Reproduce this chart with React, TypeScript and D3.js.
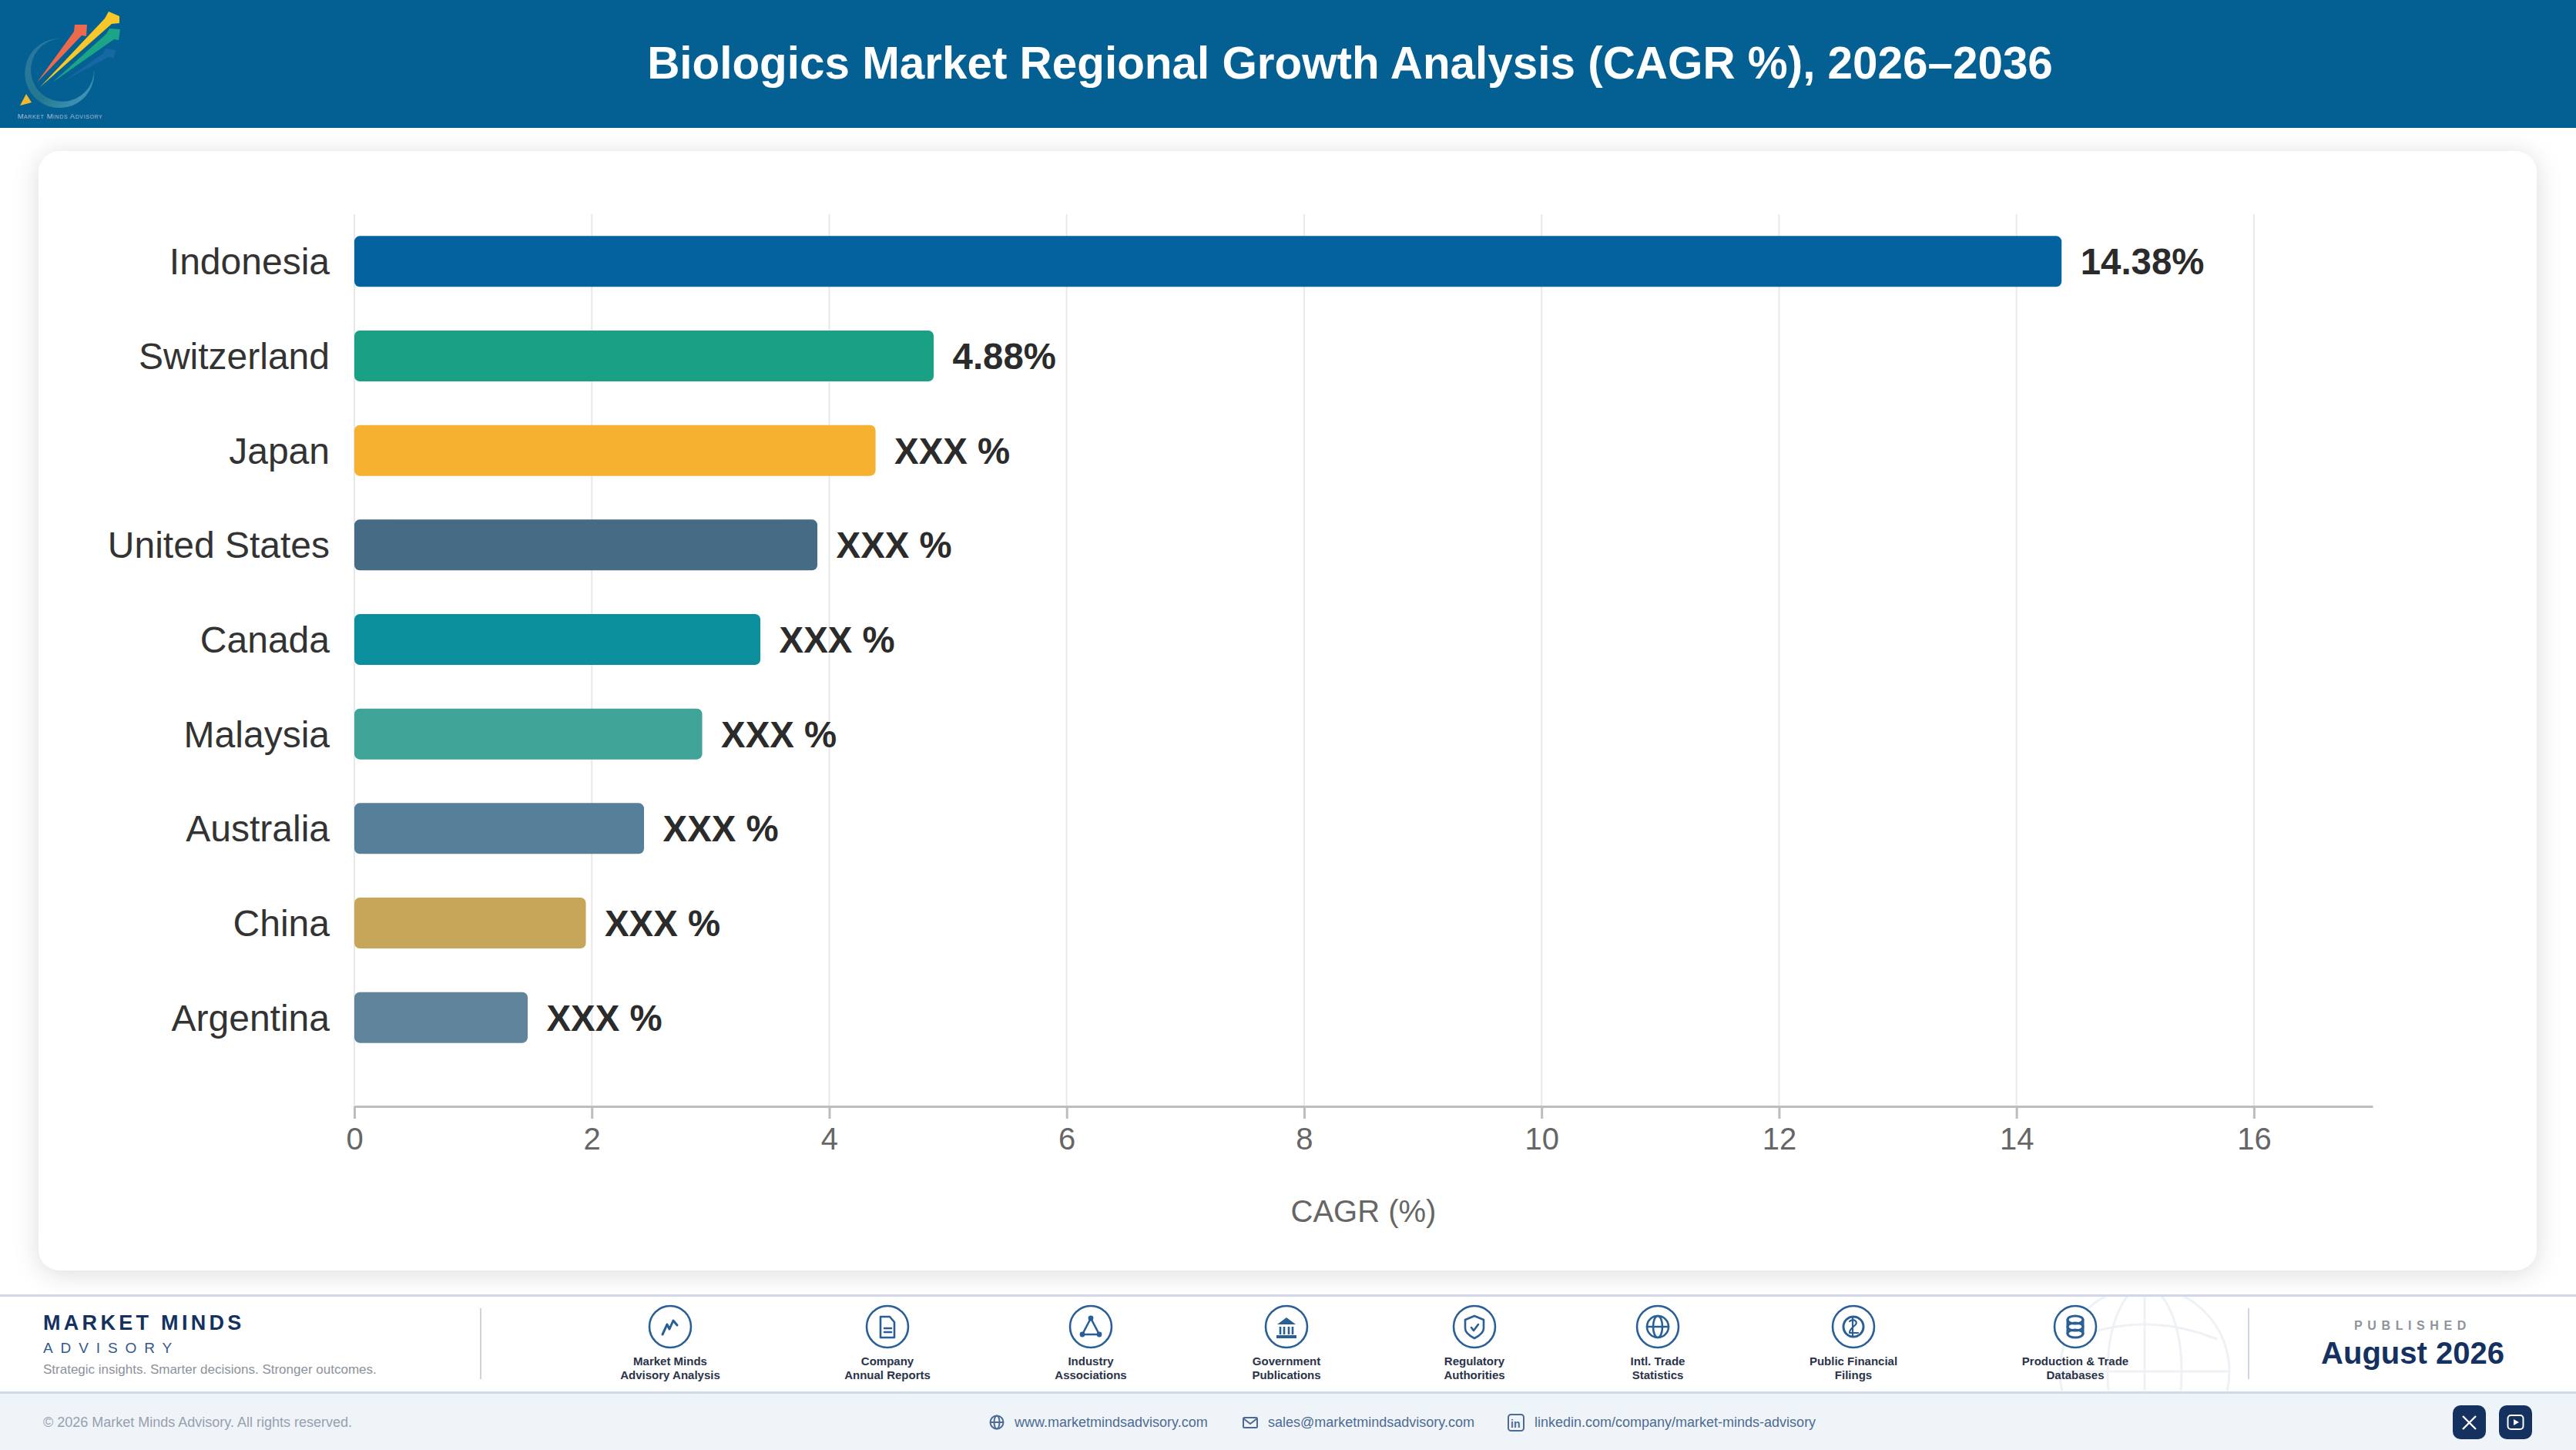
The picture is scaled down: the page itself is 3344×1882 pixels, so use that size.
import React, { useEffect, useRef } from "react";
import * as d3 from "d3";

const WIDTH = 3344;
const HEIGHT = 1882;
const FONT = "'Liberation Sans', Arial, sans-serif";

const titleText = "Biologics Market Regional Growth Analysis (CAGR %), 2026–2036";
const categories = ["Indonesia", "Switzerland", "Japan", "United States", "Canada", "Malaysia", "Australia", "China", "Argentina"];
const cagrValues = [14.38, 4.88, 4.39, 3.9, 3.42, 2.93, 2.44, 1.95, 1.46];
const valueLabels = ["14.38%", "4.88%", "XXX %", "XXX %", "XXX %", "XXX %", "XXX %", "XXX %", "XXX %"];
const barColors = ["#04639f", "#19a085", "#f5b12f", "#466b84", "#0c8f9c", "#3fa398", "#567f99", "#c7a65a", "#5f849b"];
const xTicks = [0, 2, 4, 6, 8, 10, 12, 14, 16];
const axisTitle = "CAGR (%)";

const sourceLabels = [
  ["Market Minds", "Advisory Analysis"],
  ["Company", "Annual Reports"],
  ["Industry", "Associations"],
  ["Government", "Publications"],
  ["Regulatory", "Authorities"],
  ["Intl. Trade", "Statistics"],
  ["Public Financial", "Filings"],
  ["Production & Trade", "Databases"],
];
const sourceCenters = [870, 1152, 1416, 1670, 1914, 2152, 2406, 2694];

const NAVY = "#14315f";
const ICON = "#2a5f96";
const LINK = "#4d6b93";

function SourceGlyph({ index }: { index: number }) {
  const line = { fill: "none", stroke: ICON, strokeWidth: 2.6, strokeLinejoin: "round" as const, strokeLinecap: "round" as const };
  switch (index) {
    case 0:
      return <path {...line} strokeWidth={3} d="M-10 10 L-4 -3 L-1 3 L4 -8 L9 -2" />;
    case 1:
      return (
        <g {...line}>
          <path d="M-9 -13 H3 L9 -6 V14 H-9 Z" />
          <path d="M-4 2 H5 M-4 7 H5" />
        </g>
      );
    case 2:
      return (
        <g>
          <path {...line} d="M0 -11 L-11 10 H11 Z" />
          <circle cx={0} cy={-11} r={3.4} fill={ICON} />
          <circle cx={-11} cy={10} r={3.4} fill={ICON} />
          <circle cx={11} cy={10} r={3.4} fill={ICON} />
        </g>
      );
    case 3:
      return (
        <g>
          <path fill={ICON} d="M0 -12 L12 -3 H-12 Z" />
          <path {...line} strokeLinecap="butt" d="M-8 0 V10 M-3 0 V10 M3 0 V10 M8 0 V10" />
          <rect x={-13} y={11} width={26} height={4} fill={ICON} />
        </g>
      );
    case 4:
      return (
        <g {...line}>
          <path d="M0 -14 L12 -9 V2 C12 8 6 12 0 15 C-6 12 -12 8 -12 2 V-9 Z" />
          <path d="M-4 1 L-1 5 L5 -3" />
        </g>
      );
    case 5:
      return (
        <g {...line}>
          <circle r={14} />
          <ellipse rx={6} ry={14} />
          <path d="M-14 0 H14" />
        </g>
      );
    case 6:
      return (
        <g {...line}>
          <circle r={13} strokeWidth={3} />
          <path d="M-5 -7 C0 -11 6 -7 3 -3 C1 0 -5 2 -5 8 H6 M-1 -12 V12" strokeWidth={2.2} />
        </g>
      );
    default:
      return (
        <g {...line} strokeWidth={3}>
          <ellipse cy={-9} rx={10} ry={5} />
          <ellipse cy={0} rx={10} ry={5} />
          <ellipse cy={9} rx={10} ry={5} />
          <path d="M-10 -9 V9 M10 -9 V9" />
        </g>
      );
  }
}

function Logo() {
  return (
    <g>
      <defs>
        <linearGradient id="ringFill" x1="0" y1="0" x2="1" y2="1">
          <stop offset="0%" stopColor="#2c78a2" />
          <stop offset="55%" stopColor="#23788f" />
          <stop offset="100%" stopColor="#4a9ec8" />
        </linearGradient>
      </defs>
      <path d="M77 50 A45 45 0 1 0 122 90 A41 41 0 1 1 77 50 Z" fill="url(#ringFill)" />
      <path d="M80 107 L133 70 L137 63 L150 65 L148 76 L141 74 Z" fill="#1b6ba6" opacity={0.75} />
      <path d="M48 107 L96 41 L97 32 L113 32 L112 47 L106 46 Z" fill="#ee6a4c" />
      <path d="M68 107 L138 44 L142 37 L156 38 L154 52 L148 51 Z" fill="#1ba586" />
      <path d="M52 113 L136 24 L141 15 L155 21 L155 30 L145 31 Z" fill="#f8c72a" />
      <path d="M26 137 L34 122 L41 133 Z" fill="#f6b92e" />
      <text x={78} y={154} textAnchor="middle" fontSize={9.4} fill="#a4bdd0" style={{ fontVariant: "small-caps" }} letterSpacing={0.6}>
        Market Minds Advisory
      </text>
    </g>
  );
}

function App() {
  const chartRef = useRef<SVGGElement>(null);

  useEffect(() => {
    const x = d3.scaleLinear().domain([0, 17]).range([460, 3080]);
    const y = d3.scaleBand<string>().domain(categories).range([278, 1382]).paddingInner(0.462).paddingOuter(0.231);
    const rows = categories.map((name, i) => ({ name, value: cagrValues[i], label: valueLabels[i], color: barColors[i] }));

    const root = d3.select(chartRef.current);
    root.selectAll("*").remove();

    // Grid
    root
      .append("g")
      .selectAll("line")
      .data(xTicks)
      .join("line")
      .attr("x1", (d) => x(d))
      .attr("x2", (d) => x(d))
      .attr("y1", 278)
      .attr("y2", 1436)
      .attr("stroke", "#e8e8e8")
      .attr("stroke-width", 2);

    // Bars
    root
      .append("g")
      .selectAll("rect")
      .data(rows)
      .join("rect")
      .attr("x", x(0))
      .attr("y", (d) => y(d.name)!)
      .attr("width", (d) => x(d.value) - x(0))
      .attr("height", y.bandwidth())
      .attr("rx", 7)
      .attr("fill", (d) => d.color);

    // Category names
    root
      .append("g")
      .selectAll("text")
      .data(rows)
      .join("text")
      .attr("x", 428)
      .attr("y", (d) => y(d.name)! + y.bandwidth() / 2 + 17)
      .attr("text-anchor", "end")
      .attr("font-size", 48)
      .attr("fill", "#333333")
      .text((d) => d.name);

    // Value labels
    root
      .append("g")
      .selectAll("text")
      .data(rows)
      .join("text")
      .attr("x", (d) => x(d.value) + 24.5)
      .attr("y", (d) => y(d.name)! + y.bandwidth() / 2 + 17)
      .attr("font-size", 47.4)
      .attr("font-weight", 700)
      .attr("fill", "#2b2b2b")
      .text((d) => d.label);

    // Axis
    const xAxis = d3.axisBottom(x).tickValues(xTicks).tickSize(16).tickSizeOuter(0).tickPadding(11.5).tickFormat((d) => `${d}`);
    root
      .append("g")
      .attr("transform", "translate(0,1436)")
      .call(xAxis)
      .call((g) => g.selectAll(".domain,.tick line").attr("stroke", "#bdbdbd").attr("stroke-width", 3))
      .call((g) => g.selectAll(".tick text").attr("fill", "#666666"))
      .attr("font-size", 40)
      .attr("font-family", FONT);

    root
      .append("text")
      .attr("x", 1770)
      .attr("y", 1586)
      .attr("text-anchor", "middle")
      .attr("font-size", 40)
      .attr("fill", "#666666")
      .text(axisTitle);
  }, []);

  return (
    <svg
      width={WIDTH}
      height={HEIGHT}
      viewBox={`0 0 ${WIDTH} ${HEIGHT}`}
      fontFamily={FONT}
      style={{ position: "absolute", left: 0, top: 0, display: "block" }}
    >
      <defs>
        <filter id="cardShadow" x="-5%" y="-5%" width="110%" height="110%">
          <feDropShadow dx={0} dy={4} stdDeviation={16} floodColor="#000000" floodOpacity={0.14} />
        </filter>
        <clipPath id="footerBand">
          <rect x={0} y={1683} width={WIDTH} height={122} />
        </clipPath>
      </defs>

      <rect width={WIDTH} height={HEIGHT} fill="#ffffff" />

      {/* Header */}
      <rect width={WIDTH} height={166} fill="#045f93" />
      <Logo />
      <text x={1752.5} y={102} textAnchor="middle" fontSize={58.4} fontWeight={700} fill="#ffffff">
        {titleText}
      </text>

      {/* Card */}
      <rect x={50} y={196} width={3243} height={1453} rx={28} fill="#ffffff" filter="url(#cardShadow)" />
      <g ref={chartRef} />

      {/* Footer */}
      <rect x={0} y={1681} width={WIDTH} height={126} fill="#ffffff" />
      <rect x={0} y={1807} width={WIDTH} height={75} fill="#eff4f9" />
      <rect x={0} y={1680} width={WIDTH} height={3} fill="#d2d6e6" />
      <rect x={0} y={1806} width={WIDTH} height={3} fill="#d2d9e8" />

      <g clipPath="url(#footerBand)" fill="none" stroke="#eef1f5" strokeWidth={3}>
        <circle cx={2784} cy={1780} r={110} />
        <ellipse cx={2784} cy={1780} rx={48} ry={110} />
        <path d="M2674 1780 H2894 M2784 1670 V1890" />
        <path d="M2690 1738 Q2784 1700 2878 1738" />
      </g>

      <text x={56} y={1726} fontSize={27} fontWeight={700} letterSpacing={4.3} fill={NAVY}>
        MARKET MINDS
      </text>
      <text x={56} y={1756} fontSize={19} letterSpacing={9.9} fill="#34588c">
        ADVISORY
      </text>
      <text x={56} y={1783} fontSize={17} fill="#8c929c">
        Strategic insights. Smarter decisions. Stronger outcomes.
      </text>
      <rect x={623} y={1698} width={2} height={92} fill="#cfd3d8" />

      {sourceLabels.map((lines, i) => (
        <g key={lines.join(" ")} transform={`translate(${sourceCenters[i]},0)`}>
          <circle cx={0} cy={1722} r={27} fill="#ffffff" stroke={ICON} strokeWidth={2.6} />
          <g transform="translate(0,1722)">
            <SourceGlyph index={i} />
          </g>
          <text y={1772} textAnchor="middle" fontSize={15} fontWeight={700} fill="#2a3348">
            {lines[0]}
          </text>
          <text y={1790} textAnchor="middle" fontSize={15} fontWeight={700} fill="#2a3348">
            {lines[1]}
          </text>
        </g>
      ))}

      <rect x={2918} y={1698} width={2} height={92} fill="#cdd5e2" />
      <text x={3132} y={1726} textAnchor="middle" fontSize={16} fontWeight={700} letterSpacing={6.6} fill="#8e939e">
        PUBLISHED
      </text>
      <text x={3132} y={1770} textAnchor="middle" fontSize={40} fontWeight={700} fill={NAVY}>
        August 2026
      </text>

      <text x={56} y={1852} fontSize={18} fill="#98a0ae">
        © 2026 Market Minds Advisory. All rights reserved.
      </text>

      <g fill="none" stroke={LINK} strokeWidth={2}>
        <circle cx={1294} cy={1846} r={8.5} />
        <ellipse cx={1294} cy={1846} rx={3.5} ry={8.5} />
        <path d="M1285.5 1846 H1302.5" />
        <rect x={1614} y={1840} width={18} height={13} rx={1.5} />
        <path d="M1614 1841 L1623 1848 L1632 1841" />
        <rect x={1958} y={1836} width={20} height={21} rx={3.5} />
      </g>
      <text x={1317} y={1852} fontSize={18} fill={LINK}>
        www.marketmindsadvisory.com
      </text>
      <text x={1646} y={1852} fontSize={18} fill={LINK}>
        sales@marketmindsadvisory.com
      </text>
      <text x={1961} y={1853} fontSize={14} fontWeight={700} fill={LINK}>
        in
      </text>
      <text x={1992} y={1852} fontSize={18} fill={LINK}>
        linkedin.com/company/market-minds-advisory
      </text>

      <rect x={3184} y={1824} width={43} height={44} rx={10} fill={NAVY} />
      <path d="M3197 1838 L3214 1855 M3214 1838 L3197 1855" stroke="#ffffff" strokeWidth={2.4} fill="none" />
      <rect x={3244} y={1824} width={43} height={44} rx={10} fill={NAVY} />
      <rect x={3255.5} y={1837} width={20} height={18} rx={4} fill="none" stroke="#ffffff" strokeWidth={2} />
      <path d="M3263 1842 L3270 1846 L3263 1850 Z" fill="#ffffff" />
    </svg>
  );
}

export default App;
